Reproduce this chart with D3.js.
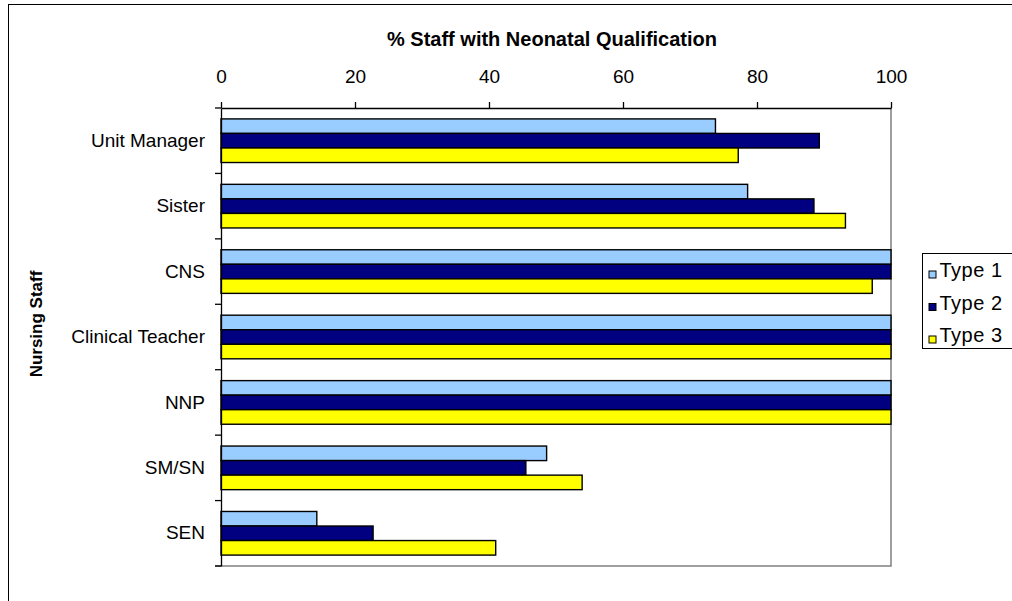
<!DOCTYPE html>
<html>
<head>
<meta charset="utf-8">
<script src="https://cdn.jsdelivr.net/npm/d3@7"></script>
<style>
  html, body { margin: 0; padding: 0; background: #fff; }
  svg { display: block; font-family: "Liberation Sans", Arial, sans-serif; }
</style>
</head>
<body>
<svg id="chart" width="1012" height="601"></svg>
<script>
// Nursing staff grades, listed top to bottom
const categories = ["Unit Manager", "Sister", "CNS", "Clinical Teacher", "NNP", "SM/SN", "SEN"];
const seriesNames = ["Type 1", "Type 2", "Type 3"];
// % of staff holding a neonatal qualification, by unit type
const type1 = [73.8, 78.6, 100, 100, 100, 48.6, 14.3];
const type2 = [89.3, 88.5, 100, 100, 100, 45.5, 22.7];
const type3 = [77.2, 93.2, 97.2, 100, 100, 53.9, 41.0];
const xTicks = [0, 20, 40, 60, 80, 100];
const colors = ["#99CCFF", "#000080", "#FFFF00"];

const seriesValues = [type1, type2, type3];
const rows = categories.map((c, i) => ({
  category: c,
  values: seriesNames.map((s, k) => ({ series: s, value: seriesValues[k][i] }))
}));

const svg = d3.select("#chart");

// outer chart frame
svg.append("rect")
  .attr("x", 8.5).attr("y", 4.5)
  .attr("width", 1100).attr("height", 700)
  .attr("fill", "none").attr("stroke", "#000").attr("stroke-width", 1);

const plot = { left: 221, right: 891, top: 108, bottom: 566 };

const x = d3.scaleLinear().domain([0, 100]).range([plot.left, plot.right]);
const y = d3.scaleBand()
  .domain(categories)
  .range([plot.top, plot.bottom])
  .paddingInner(1 / 3)
  .paddingOuter(1 / 6);
const ySub = d3.scaleBand().domain(seriesNames).range([0, y.bandwidth()]);
const color = d3.scaleOrdinal().domain(seriesNames).range(colors);

// right and bottom edges of the plot area
svg.append("path")
  .attr("d", `M${x(100)},${plot.top}V${plot.bottom}H${plot.left - 6}`)
  .attr("fill", "none").attr("stroke", "#808080").attr("stroke-width", 1.5);

// bars
const groups = svg.append("g").selectAll("g")
  .data(rows).join("g")
  .attr("transform", d => `translate(0,${y(d.category)})`);

groups.selectAll("rect")
  .data(d => d.values).join("rect")
  .attr("x", x(0))
  .attr("y", d => ySub(d.series))
  .attr("width", d => x(d.value) - x(0))
  .attr("height", ySub.bandwidth())
  .attr("fill", d => color(d.series))
  .attr("stroke", "#000").attr("stroke-width", 1.4);

// value axis along the top
const xAxis = svg.append("g")
  .attr("transform", `translate(0,${plot.top})`)
  .call(d3.axisTop(x).tickValues(xTicks).tickFormat(d3.format("d"))
    .tickSizeInner(6).tickSizeOuter(0).tickPadding(19));
xAxis.select(".domain").attr("stroke", "#000").attr("stroke-width", 1.3);
xAxis.selectAll(".tick line").attr("stroke", "#000").attr("stroke-width", 1.3);
xAxis.selectAll(".tick text")
  .attr("font-size", 19).attr("fill", "#000")
  .attr("font-family", "Liberation Sans, Arial, sans-serif");

// category axis on the left
const yAxis = svg.append("g")
  .attr("transform", `translate(${plot.left},0)`)
  .call(d3.axisLeft(y).tickSizeInner(0).tickSizeOuter(0).tickPadding(16));
yAxis.select(".domain").attr("stroke", "#000").attr("stroke-width", 1.3);
yAxis.selectAll(".tick text")
  .attr("font-size", 19).attr("fill", "#000")
  .attr("font-family", "Liberation Sans, Arial, sans-serif");

// tick marks between categories
const halfGap = y.step() * y.paddingInner() / 2;
const boundaries = categories.map(c => y(c) - halfGap).concat([y.range()[1]]);
svg.append("g").selectAll("line")
  .data(boundaries).join("line")
  .attr("x1", plot.left - 6).attr("x2", plot.left)
  .attr("y1", d => d).attr("y2", d => d)
  .attr("stroke", "#000").attr("stroke-width", 1.3);

// titles
svg.append("text")
  .attr("x", 552).attr("y", 46)
  .attr("text-anchor", "middle")
  .attr("font-size", 20).attr("font-weight", "bold")
  .text("% Staff with Neonatal Qualification");

svg.append("text")
  .attr("transform", `translate(42,${(plot.top + plot.bottom) / 2 - 13}) rotate(-90)`)
  .attr("text-anchor", "middle")
  .attr("font-size", 17).attr("font-weight", "bold")
  .text("Nursing Staff");

// legend
const legend = svg.append("g").attr("transform", "translate(922.5,253.5)");
legend.append("rect")
  .attr("width", 200).attr("height", 95)
  .attr("fill", "#fff").attr("stroke", "#000").attr("stroke-width", 1);
const items = legend.selectAll("g.item")
  .data(seriesNames).join("g")
  .attr("class", "item")
  .attr("transform", (d, i) => `translate(0,${17.5 + i * 32.5})`);
items.append("rect")
  .attr("x", 6.5).attr("y", 0)
  .attr("width", 7).attr("height", 7)
  .attr("fill", d => color(d))
  .attr("stroke", "#000").attr("stroke-width", 1);
items.append("text")
  .attr("x", 17).attr("y", 6)
  .attr("font-size", 20)
  .attr("letter-spacing", 0.5)
  .text(d => d);
</script>
</body>
</html>
